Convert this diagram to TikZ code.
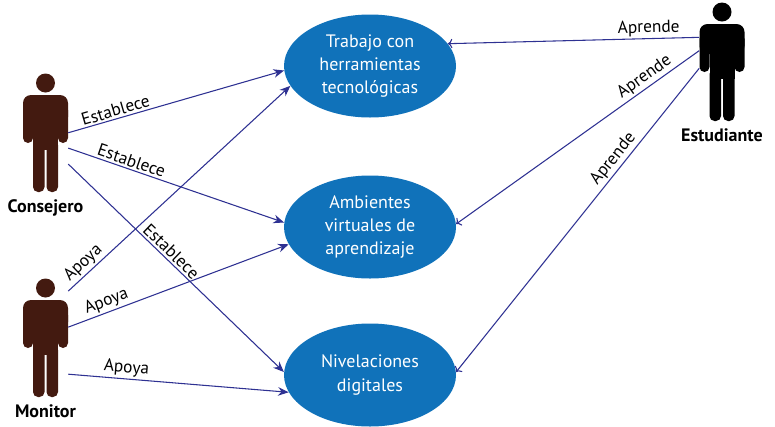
\documentclass[tikz,border=0pt]{standalone}
\usepackage{fontspec}
\setmainfont{PT Sans}
\usepackage{tikz}
\usetikzlibrary{arrows.meta, shapes.geometric, positioning}

\definecolor{azulcaso}{RGB}{16,114,186}
\definecolor{azulflecha}{RGB}{46,49,146}
\definecolor{cafe}{RGB}{67,26,16}

\tikzset{
  caso/.style={ellipse, fill=azulcaso, text=white, minimum width=129pt, minimum height=77.25pt, inner sep=0pt, align=center, font=\fontsize{13.5}{17.5}\selectfont},
  flecha/.style={draw=azulflecha, line width=0.8pt, -{Stealth[length=8pt,width=6.5pt]}},
  etiqueta/.style={font=\fontsize{13}{15}\selectfont, above, inner sep=1.5pt},
  actor/.style={minimum width=33.75pt, minimum height=88.9pt, inner sep=0pt},
  nombre/.style={font=\bfseries\fontsize{13.5}{15}\selectfont, inner sep=0pt}
}

% silueta de una persona: #1 nombre, #2 centro x, #3 hombros y, #4 color
\newcommand{\figura}[4]{%
  \node[actor] (#1) at (#2,{#3+37.75}) {};
  \fill[#4] (#2,{#3-12}) circle[radius=9.5];
  \fill[#4, rounded corners=6pt] ({#2-22.5},#3) rectangle ({#2+22.5},{#3+30});
  \fill[#4, rounded corners=3.75pt] ({#2-22.5},{#3+10}) rectangle ({#2-12.5},{#3+48});
  \fill[#4, rounded corners=3.75pt] ({#2+12.5},{#3+10}) rectangle ({#2+22.5},{#3+48});
  \fill[#4] ({#2-12.5},{#3+5}) rectangle ({#2+12.5},{#3+55});
  \fill[#4, rounded corners=3.75pt] ({#2-12.5},{#3+45}) rectangle ({#2-1},{#3+97});
  \fill[#4, rounded corners=3.75pt] ({#2+1},{#3+45}) rectangle ({#2+12.5},{#3+97});
}

\begin{document}
\begin{tikzpicture}[x=0.75pt,y=0.75pt,yscale=-1,xscale=1]
\useasboundingbox (0,0) rectangle (775,426);

%Shape: Ellipse
\node[caso] (trabajo) at (370,66) {Trabajo con\\herramientas\\tecnológicas};
%Shape: Ellipse
\node[caso] (ambientes) at (370,227) {Ambientes\\virtuales de\\aprendizaje};
%Shape: Ellipse
\node[caso] (nivelaciones) at (370,375) {Nivelaciones\\digitales};

%Shape: Actors
\figura{consejero}{45.5}{95}{cafe}
\figura{monitor}{45.5}{300}{cafe}
\figura{estudiante}{722}{24}{black}

% Text Node
\node[nombre, below=5pt of consejero] (nconsejero) {Consejero};
% Text Node
\node[nombre, below=5pt of monitor] (nmonitor) {Monitor};
% Text Node
\node[nombre, below=5pt of estudiante] (nestudiante) {Estudiante};

%Straight Lines
\draw[flecha] (consejero.0) -- node[etiqueta, pos=0.23, rotate=16.3] {Establece} (trabajo.183);
%Straight Lines
\draw[flecha] (consejero.326) -- node[etiqueta, pos=0.28, rotate=-18.9] {Establece} (ambientes.177);
%Straight Lines
\draw[flecha] (consejero.306) -- node[etiqueta, pos=0.45, rotate=-44] {Establece} (nivelaciones.178);
%Straight Lines
\draw[flecha] (monitor.64) -- node[etiqueta, pos=0.10, rotate=43.1] {Apoya} (trabajo.194);
%Straight Lines
\draw[flecha] (monitor.25) -- node[etiqueta, pos=0.19, rotate=20.5] {Apoya} (ambientes.192);
%Straight Lines
\draw[flecha] (monitor.302) -- node[etiqueta, pos=0.26, rotate=-4.7] {Apoya} (nivelaciones.192);
%Straight Lines
\draw[flecha, <-] (trabajo.16) -- node[etiqueta, pos=0.80, rotate=1.4] {Aprende} (estudiante.133);
%Straight Lines
\draw[flecha, <-] (ambientes.2) -- node[etiqueta, pos=0.80, rotate=35.5] {Aprende} (estudiante.154);
%Straight Lines
\draw[flecha, <-] (nivelaciones.2) -- node[etiqueta, pos=0.68, rotate=51.4] {Aprende} (estudiante.196);

\end{tikzpicture}
\end{document}
